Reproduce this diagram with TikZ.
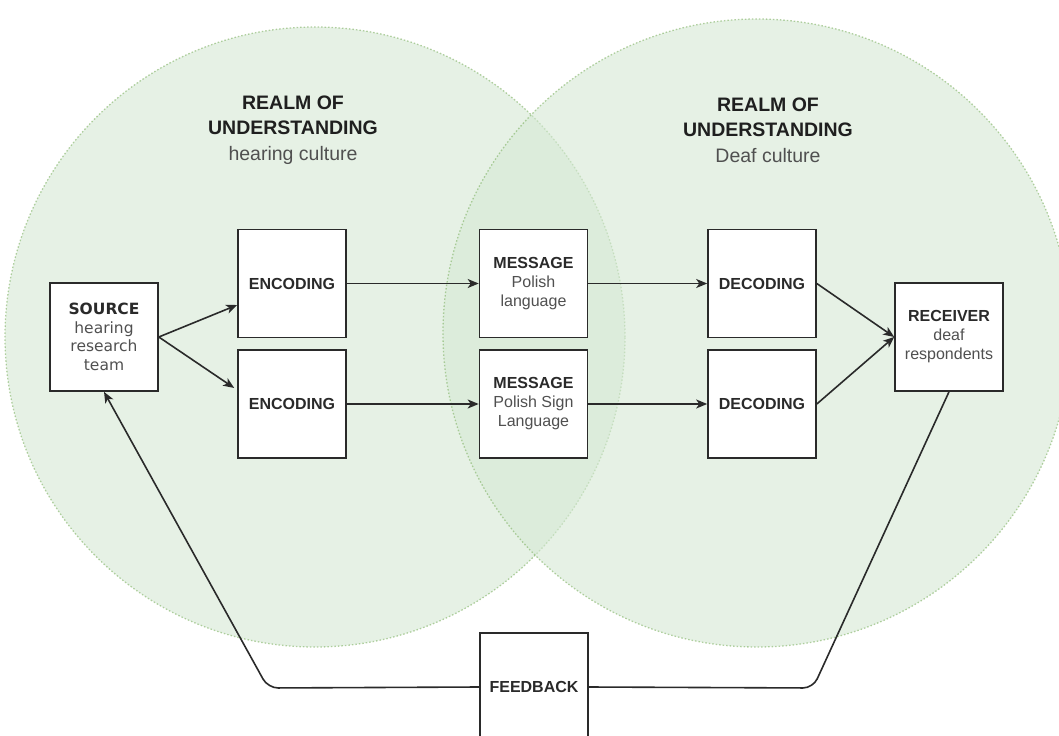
\documentclass[tikz,border=0pt]{standalone}
\usepackage{fontspec}
\setmainfont{Liberation Sans}
\newfontfamily\verd{DejaVu Sans}
\usetikzlibrary{arrows.meta}
\definecolor{realmfill}{HTML}{D5E8D4}
\definecolor{realmline}{HTML}{82B366}
\definecolor{ink}{HTML}{2A2A2A}
\definecolor{subc}{HTML}{505050}
\newcommand\lite{\mdseries\color{subc}}
\begin{document}
\begin{tikzpicture}[x=1bp,y=-1bp,
  realm/.style={circle, inner sep=0pt, fill=realmfill, fill opacity=0.6,
    draw=realmline, draw opacity=0.6, line width=1.3bp, dash pattern=on 1.5bp off 2bp},
  box/.style={rectangle, draw=ink, line width=1.6bp, fill=white,
    minimum width=108bp, minimum height=108bp, inner sep=2bp, align=center, text=ink,
    font=\fontsize{16bp}{19bp}\selectfont\bfseries},
  srcbox/.style={box, font=\verd\fontsize{15.5bp}{18.7bp}\selectfont\bfseries},
  conn/.style={draw=ink, line width=1.6bp},
  arr/.style={conn, -{Stealth[length=11bp,width=9bp,inset=3bp]}},
  ttl/.style={align=center, text=black!88,
    font=\fontsize{19.5bp}{25.5bp}\selectfont\bfseries}]
\useasboundingbox (0,0) rectangle (1059,736);
% realms
\node[realm, minimum size=620bp] (lrealm) at (315,337) {};
\node[realm, minimum size=628bp] (rrealm) at (757,333) {};
\node[ttl] (ltitle) at (293,130) {REALM OF\\UNDERSTANDING\\\lite hearing culture};
\node[ttl] (rtitle) at (768,130) {REALM OF\\UNDERSTANDING\\\lite Deaf culture};
% boxes
\node[srcbox] (src) at (104,337) {SOURCE\\\lite hearing\\\lite research\\\lite team};
\node[box] (enc1) at (292,283.5) {ENCODING};
\node[box] (enc2) at (292,404) {ENCODING};
\node[box] (msg1) at (533.5,283.5) {MESSAGE\\\lite Polish\\\lite language};
\node[box] (msg2) at (533.5,404) {MESSAGE\\\lite Polish Sign\\\lite Language};
\node[box] (dec1) at (762,283.5) {DECODING};
\node[box] (dec2) at (762,404) {DECODING};
\node[box] (rec) at (949,337) {RECEIVER\\\lite deaf\\\lite respondents};
\node[box] (fb) at (534,687) {FEEDBACK};
\coordinate (fbr) at (813,688);
\coordinate (fbl) at (268,688);
% connectors
\draw[arr] (src.east) -- ([yshift=-21.5bp]enc1.west);
\draw[arr] (src.east) -- ([yshift=16bp,xshift=-3bp]enc2.west);
\draw[arr] (enc1.east) -- (msg1.west);
\draw[arr] (enc2.east) -- (msg2.west);
\draw[arr] (msg1.east) -- (dec1.west);
\draw[arr] (msg2.east) -- (dec2.west);
\draw[arr] (dec1.east) -- (rec.west);
\draw[arr] (dec2.east) -- (rec.west);
\draw[conn, rounded corners=10bp] (rec.south) -- (fbr) -- (fb.east);
\draw[arr, rounded corners=10bp] (fb.west) -- (fbl) -- (src.south);
\end{tikzpicture}
\end{document}
